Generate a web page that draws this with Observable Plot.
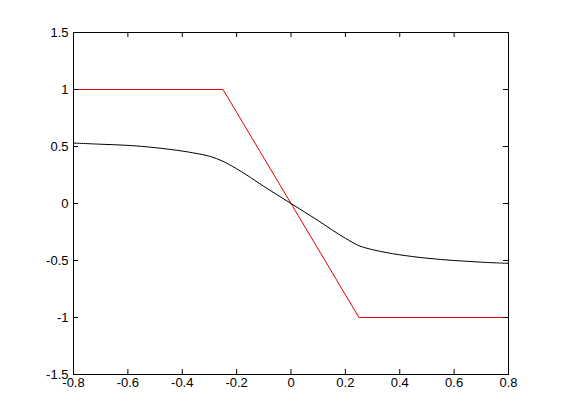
<!DOCTYPE html>
<html>
<head>
<meta charset="utf-8">
<script src="https://cdn.jsdelivr.net/npm/d3@7"></script>
<script src="https://cdn.jsdelivr.net/npm/@observablehq/plot@0.6"></script>
<style>
  html, body { margin: 0; padding: 0; background: white; }
</style>
</head>
<body>
<div id="chart"></div>
<script>
// Tick values
const xTicks = [-0.8, -0.6, -0.4, -0.2, 0, 0.2, 0.4, 0.6, 0.8];
const yTicks = [-1.5, -1, -0.5, 0, 0.5, 1, 1.5];

// Black smooth curve
const curveX = [-0.8, -0.7, -0.6, -0.5, -0.4, -0.35, -0.3, -0.25, -0.2, -0.15, -0.1, -0.05, 0,
                0.05, 0.1, 0.15, 0.2, 0.25, 0.3, 0.35, 0.4, 0.5, 0.6, 0.7, 0.8];
const curveY = [0.53, 0.52, 0.51, 0.49, 0.46, 0.44, 0.415, 0.37, 0.305, 0.23, 0.15, 0.075, 0,
                -0.075, -0.15, -0.23, -0.305, -0.37, -0.405, -0.43, -0.45, -0.48, -0.50, -0.515, -0.525];

// Red piecewise-linear line
const lineX = [-0.8, -0.25, 0.25, 0.8];
const lineY = [1, 1, -1, -1];

const curve = curveX.map((x, i) => ({x, y: curveY[i]}));
const line = lineX.map((x, i) => ({x, y: lineY[i]}));

const fmt = d => String(d);
const W = 561, H = 420, mL = 73, mR = 53, mT = 32, mB = 46;
const plotH = H - mT - mB, plotW = W - mL - mR, tk = 5;

const chart = Plot.plot({
  width: W,
  height: H,
  marginLeft: mL,
  marginRight: mR,
  marginTop: mT,
  marginBottom: mB,
  style: {fontFamily: "'Liberation Sans', Arial, sans-serif", fontSize: "13px", background: "white", color: "black"},
  x: {domain: [-0.8, 0.8], ticks: xTicks, tickFormat: fmt, tickSize: 0, tickPadding: 3, label: null},
  y: {domain: [-1.5, 1.5], ticks: yTicks, tickFormat: fmt, tickSize: 0, tickPadding: 5, label: null},
  marks: [
    Plot.line(line, {x: "x", y: "y", stroke: "#e00000", strokeWidth: 1}),
    Plot.line(curve, {x: "x", y: "y", stroke: "black", strokeWidth: 1, curve: "catmull-rom"}),
    // inward ticks, all four sides
    Plot.tickX(xTicks, {x: d => d, insetTop: plotH - tk, stroke: "black"}),
    Plot.tickX(xTicks, {x: d => d, insetBottom: plotH - tk, stroke: "black"}),
    Plot.tickY(yTicks, {y: d => d, insetRight: plotW - tk, stroke: "black"}),
    Plot.tickY(yTicks, {y: d => d, insetLeft: plotW - tk, stroke: "black"}),
    Plot.frame({stroke: "black"})
  ]
});
document.getElementById("chart").appendChild(chart);
</script>
</body>
</html>
